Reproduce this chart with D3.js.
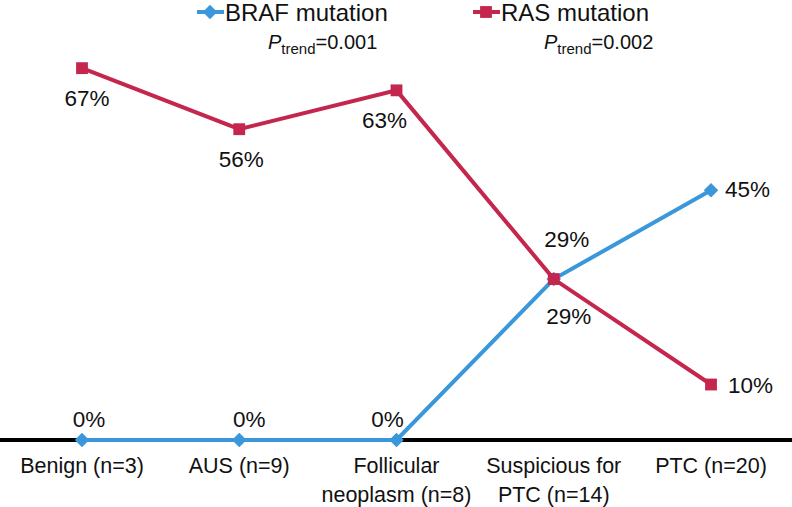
<!DOCTYPE html>
<html><head><meta charset="utf-8">
<script src="https://cdn.jsdelivr.net/npm/d3@7"></script>
<style>body{margin:0;background:#fff}svg{display:block;font-family:"Liberation Sans",Arial,sans-serif}</style>
</head><body><svg id="c" width="792" height="507"></svg>
<script>
const categories = ["Benign (n=3)", "AUS (n=9)", "Follicular\nneoplasm (n=8)", "Suspicious for\nPTC (n=14)", "PTC (n=20)"];
const brafValues = [0, 0, 0, 29, 45];
const rasValues = [67, 56, 63, 29, 10];
const brafLabels = ["0%", "0%", "0%", "29%", "45%"];
const rasLabels = ["67%", "56%", "63%", "29%", "10%"];
const seriesNames = ["BRAF mutation", "RAS mutation"];
const pTrend = ["0.001", "0.002"];

const svg = d3.select("#c");
const blue = "#3a98da", red = "#c4264e";
const x = d3.scalePoint().domain(d3.range(categories.length)).range([82, 711]);
const y = d3.scaleLinear().domain([0, 70]).range([440, 51.5]);

// axis baseline
svg.append("line").attr("x1", 0).attr("x2", 792).attr("y1", y(0)).attr("y2", y(0))
  .attr("stroke", "#000").attr("stroke-width", 4);

// category labels
categories.forEach((c, i) => {
  const lines = c.split("\n");
  const t = svg.append("text").attr("x", x(i)).attr("text-anchor", "middle")
    .attr("font-size", 21.5).attr("fill", "#111");
  lines.forEach((l, j) => t.append("tspan").attr("x", x(i)).attr("y", 473 + j * 29).text(l));
});

const line = d3.line().x((d, i) => x(i)).y(d => y(d));
svg.append("path").datum(brafValues).attr("d", line).attr("fill", "none")
  .attr("stroke", blue).attr("stroke-width", 4);
svg.append("path").datum(rasValues).attr("d", line).attr("fill", "none")
  .attr("stroke", red).attr("stroke-width", 4);

const diamond = d3.symbol().type(d3.symbolSquare).size(105);
const square = d3.symbol().type(d3.symbolSquare).size(140);
brafValues.forEach((v, i) => svg.append("path").attr("d", diamond)
  .attr("transform", `translate(${x(i)},${y(v)}) rotate(45)`).attr("fill", blue));
rasValues.forEach((v, i) => svg.append("path").attr("d", square)
  .attr("transform", `translate(${x(i)},${y(v)})`).attr("fill", red));

// data labels
const lab = (tx, ty, s, anchor) => svg.append("text").attr("x", tx).attr("y", ty)
  .attr("text-anchor", anchor || "middle").attr("font-size", 22.5).attr("fill", "#111").text(s);
// BRAF
lab(x(0) + 7, y(brafValues[0]) - 13, brafLabels[0]);
lab(x(1) + 10, y(brafValues[1]) - 13, brafLabels[1]);
lab(x(2) - 9, y(brafValues[2]) - 13, brafLabels[2]);
lab(x(3) + 13, y(brafValues[3]) - 32, brafLabels[3]);
lab(x(4) + 14, y(brafValues[4]) + 7, brafLabels[4], "start");
// RAS
lab(x(0) + 5, y(rasValues[0]) + 38, rasLabels[0]);
lab(x(1) + 2, y(rasValues[1]) + 38, rasLabels[1]);
lab(x(2) - 12, y(rasValues[2]) + 38, rasLabels[2]);
lab(x(3) + 15, y(rasValues[3]) + 45, rasLabels[3]);
lab(x(4) + 17, y(rasValues[4]) + 8, rasLabels[4], "start");

// legend
const legend = [{x: 197, c: blue, sym: diamond, rot: 45}, {x: 473, c: red, sym: square, rot: 0}];
legend.forEach((L, k) => {
  svg.append("line").attr("x1", L.x).attr("x2", L.x + 27).attr("y1", 12).attr("y2", 12)
    .attr("stroke", L.c).attr("stroke-width", 4);
  svg.append("path").attr("d", L.sym).attr("transform", `translate(${L.x + 13},12) rotate(${L.rot})`).attr("fill", L.c);
  svg.append("text").attr("x", L.x + 28).attr("y", 21).attr("font-size", 24).attr("fill", "#111")
    .text(seriesNames[k]);
  const t = svg.append("text").attr("x", L.x + 71).attr("y", 49).attr("font-size", 20).attr("fill", "#111");
  t.append("tspan").attr("font-style", "italic").text("P");
  t.append("tspan").attr("font-size", 15).attr("dy", 5).text("trend");
  t.append("tspan").attr("dy", -5).text("=" + pTrend[k]);
});
</script></body></html>
